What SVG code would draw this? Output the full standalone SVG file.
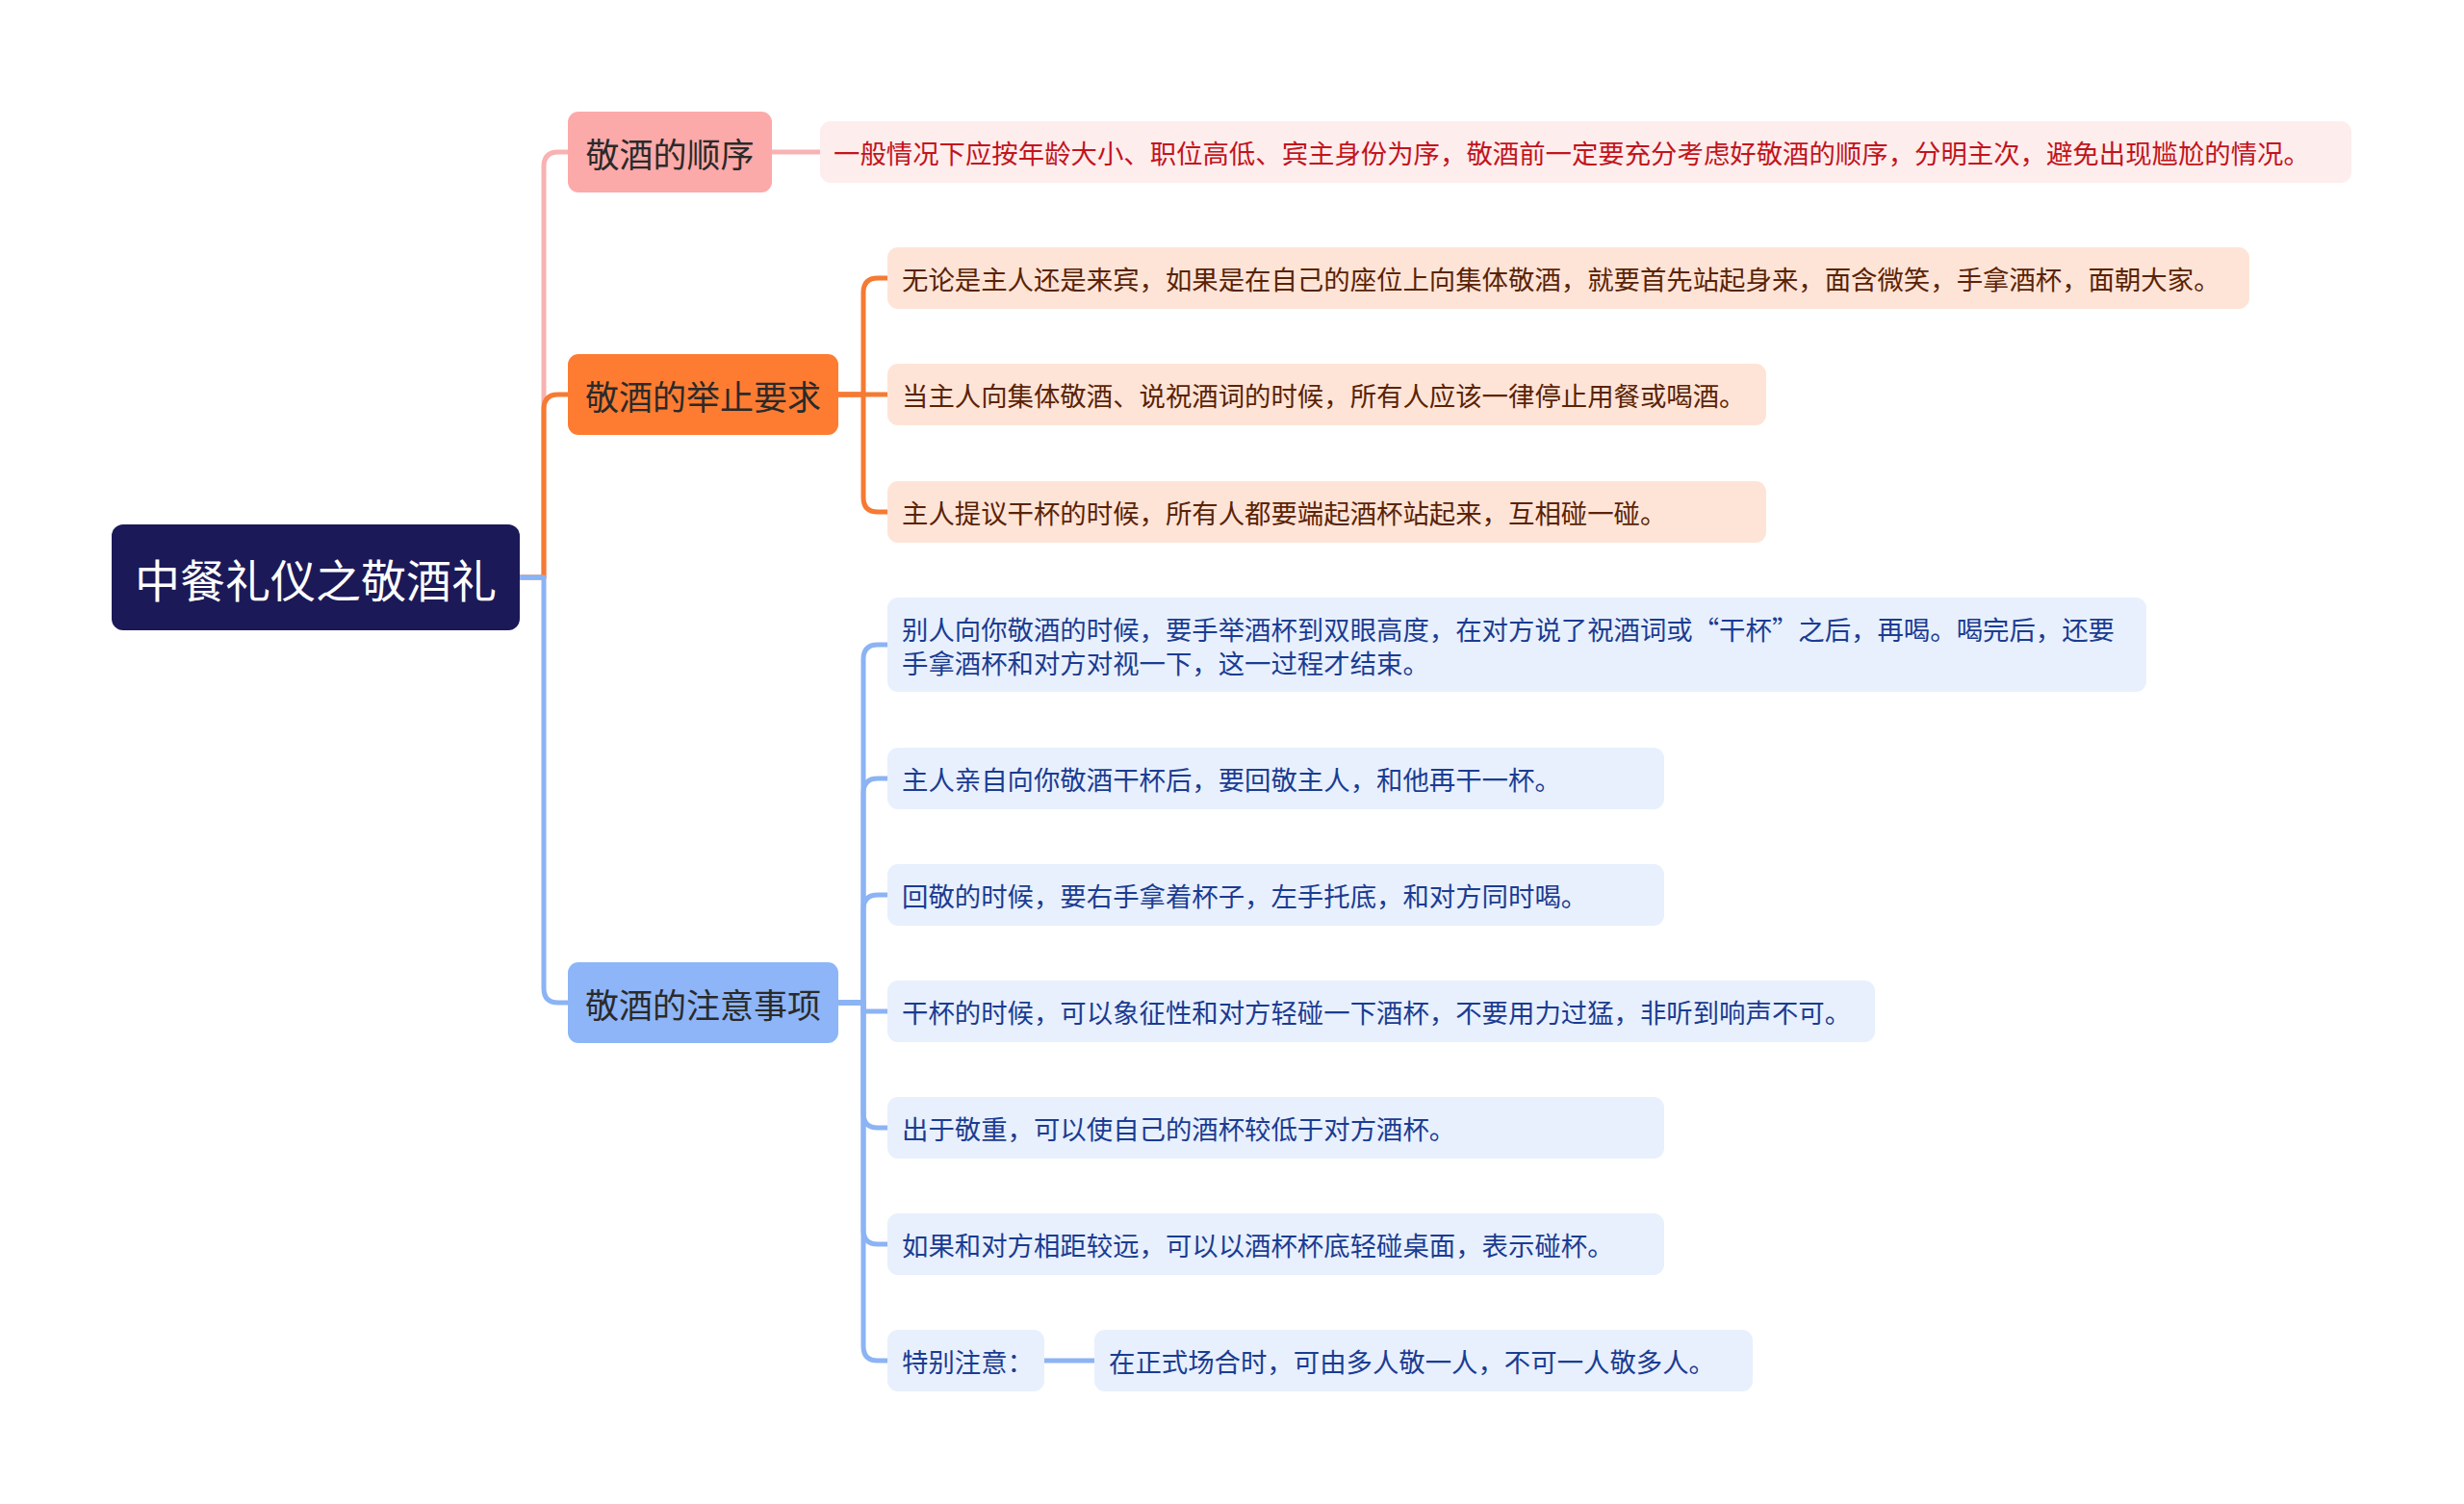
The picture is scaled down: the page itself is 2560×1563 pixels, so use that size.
<svg xmlns="http://www.w3.org/2000/svg" width="2560" height="1563" viewBox="0 0 2560 1563">
<style>
text{font-family:"Noto Sans CJK SC","Noto Sans",sans-serif;dominant-baseline:central}
.c{fill:none;stroke-width:5;stroke-linecap:round;stroke-linejoin:round}
.pk{stroke:#F8B2B2}.or{stroke:#F57A33}.bl{stroke:#8CB3F4}
.root{fill:#1C1958}.rt{fill:#FFFFFF;font-size:47px;text-anchor:middle}
.b1{fill:#FCA9A9}.b2{fill:#FD7C31}.b3{fill:#8DB5F8}
.bt{fill:#2A2A2A;font-size:35px;text-anchor:middle}
.l1{fill:#FDEDED}.t1{fill:#C2141C;font-size:27.4px}
.l2{fill:#FEE4D7}.t2{fill:#5A2306;font-size:27.4px}
.l3{fill:#E8F0FD}.t3{fill:#1B3C92;font-size:27.4px}
</style>
<rect width="2560" height="1563" fill="#FFFFFF"/>
<g id="connectors">
<path class="c pk" d="M540,600 H565 V173 Q565,158 580,158 H590"/>
<path class="c or" d="M540,600 H565 V425 Q565,410 580,410 H590"/>
<path class="c bl" d="M540,600 H565 V1027 Q565,1042 580,1042 H590"/>
<path class="c pk" d="M802,158 H852"/>
<path class="c or" d="M871,410 H897 V304 Q897,289 912,289 H922"/>
<path class="c or" d="M871,410 H922"/>
<path class="c or" d="M871,410 H897 V517 Q897,532 912,532 H922"/>
<path class="c bl" d="M871,1042 H897 V685 Q897,670 912,670 H922"/>
<path class="c bl" d="M871,1042 H897 V824 Q897,809 912,809 H922"/>
<path class="c bl" d="M871,1042 H897 V945 Q897,930 912,930 H922"/>
<path class="c bl" d="M871,1042 H897 V1051 H922"/>
<path class="c bl" d="M871,1042 H897 V1157 Q897,1172 912,1172 H922"/>
<path class="c bl" d="M871,1042 H897 V1278 Q897,1293 912,1293 H922"/>
<path class="c bl" d="M871,1042 H897 V1399 Q897,1414 912,1414 H922"/>
<path class="c bl" d="M1085,1414 H1137"/>
</g>
<g id="root">
<rect class="root" x="116" y="545" width="424" height="110" rx="12"/>
<text class="rt" x="328" y="600">中餐礼仪之敬酒礼</text>
</g>
<g id="branch1">
<rect class="b1" x="590" y="116" width="212" height="84" rx="11"/>
<text class="bt" x="696" y="158">敬酒的顺序</text>
</g>
<g id="leaf1">
<rect class="l1" x="852" y="126" width="1591" height="64" rx="11"/>
<text class="t1" x="866" y="158">一般情况下应按年龄大小、职位高低、宾主身份为序，敬酒前一定要充分考虑好敬酒的顺序，分明主次，避免出现尴尬的情况。</text>
</g>
<g id="branch2">
<rect class="b2" x="590" y="368" width="281" height="84" rx="11"/>
<text class="bt" x="730.5" y="410">敬酒的举止要求</text>
</g>
<g id="leaf2a">
<rect class="l2" x="922" y="257" width="1415" height="64" rx="11"/>
<text class="t2" x="937" y="289">无论是主人还是来宾，如果是在自己的座位上向集体敬酒，就要首先站起身来，面含微笑，手拿酒杯，面朝大家。</text>
</g>
<g id="leaf2b">
<rect class="l2" x="922" y="378" width="913" height="64" rx="11"/>
<text class="t2" x="937" y="410">当主人向集体敬酒、说祝酒词的时候，所有人应该一律停止用餐或喝酒。</text>
</g>
<g id="leaf2c">
<rect class="l2" x="922" y="500" width="913" height="64" rx="11"/>
<text class="t2" x="937" y="532">主人提议干杯的时候，所有人都要端起酒杯站起来，互相碰一碰。</text>
</g>
<g id="branch3">
<rect class="b3" x="590" y="1000" width="281" height="84" rx="11"/>
<text class="bt" x="730.5" y="1042">敬酒的注意事项</text>
</g>
<g id="leaf3a">
<rect class="l3" x="922" y="621" width="1308" height="98" rx="11"/>
<text class="t3" x="937" y="653">别人向你敬酒的时候，要手举酒杯到双眼高度，在对方说了祝酒词或“干杯”之后，再喝。喝完后，还要</text>
<text class="t3" x="937" y="688">手拿酒杯和对方对视一下，这一过程才结束。</text>
</g>
<g id="leaf3b">
<rect class="l3" x="922" y="777" width="807" height="64" rx="11"/>
<text class="t3" x="937" y="809">主人亲自向你敬酒干杯后，要回敬主人，和他再干一杯。</text>
</g>
<g id="leaf3c">
<rect class="l3" x="922" y="898" width="807" height="64" rx="11"/>
<text class="t3" x="937" y="930">回敬的时候，要右手拿着杯子，左手托底，和对方同时喝。</text>
</g>
<g id="leaf3d">
<rect class="l3" x="922" y="1019" width="1026" height="64" rx="11"/>
<text class="t3" x="937" y="1051">干杯的时候，可以象征性和对方轻碰一下酒杯，不要用力过猛，非听到响声不可。</text>
</g>
<g id="leaf3e">
<rect class="l3" x="922" y="1140" width="807" height="64" rx="11"/>
<text class="t3" x="937" y="1172">出于敬重，可以使自己的酒杯较低于对方酒杯。</text>
</g>
<g id="leaf3f">
<rect class="l3" x="922" y="1261" width="807" height="64" rx="11"/>
<text class="t3" x="937" y="1293">如果和对方相距较远，可以以酒杯杯底轻碰桌面，表示碰杯。</text>
</g>
<g id="leaf3g">
<rect class="l3" x="922" y="1382" width="163" height="64" rx="11"/>
<text class="t3" x="937" y="1414">特别注意：</text>
</g>
<g id="leaf3h">
<rect class="l3" x="1137" y="1382" width="684" height="64" rx="11"/>
<text class="t3" x="1152" y="1414">在正式场合时，可由多人敬一人，不可一人敬多人。</text>
</g>
</svg>
